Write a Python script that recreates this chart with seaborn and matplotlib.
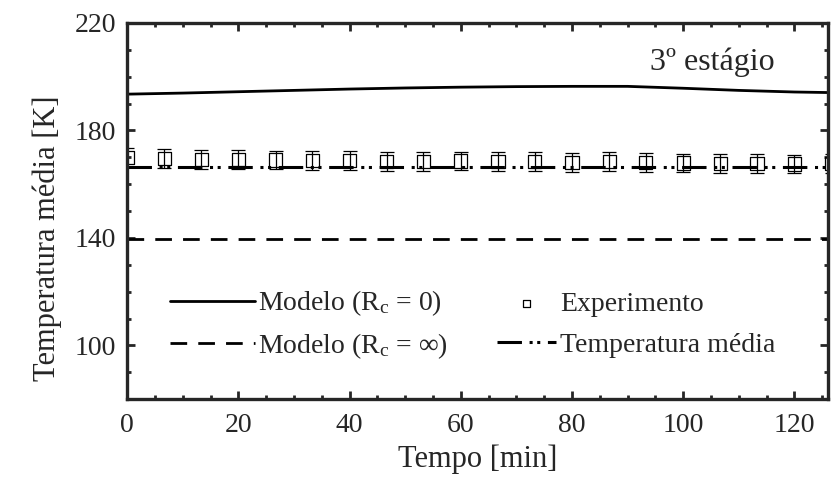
import numpy as np
import pandas as pd
import matplotlib
matplotlib.use("Agg")
import matplotlib.pyplot as plt
from matplotlib.ticker import MultipleLocator
import seaborn as sns

# ---- data ----
t_model = [0, 10, 20, 30, 40, 50, 60, 70, 80, 90, 100, 110, 120, 126]
T_model_rc0 = [193.5, 193.9, 194.4, 194.9, 195.4, 195.8, 196.1, 196.3, 196.4, 196.4, 195.7, 194.9, 194.3, 194.1]
T_model_rcinf = [139.5, 139.5, 139.5, 139.5, 139.5, 139.5, 139.5, 139.5, 139.5, 139.5, 139.5, 139.5, 139.5, 139.5]
T_media = [166.5, 166.5, 166.5, 166.5, 166.5, 166.5, 166.5, 166.5, 166.5, 166.5, 166.5, 166.5, 166.5, 166.5]

t_exp = [0, 6.7, 13.3, 20, 26.7, 33.3, 40, 46.7, 53.3, 60, 66.7, 73.3, 80, 86.7, 93.3, 100, 106.7, 113.3, 120, 126.7]
T_exp = [170.0, 169.6, 169.2, 169.3, 169.0, 168.9, 168.9, 168.5, 168.4, 168.6, 168.3, 168.4, 168.2, 168.3, 168.1, 167.9, 167.7, 167.8, 167.5, 167.6]
T_exp_err = [3.5] * 20

x_ticks = [0, 20, 40, 60, 80, 100, 120]
y_ticks = [100, 140, 180, 220]

sns.set_style("ticks")
plt.rcParams["font.family"] = ["Liberation Serif", "DejaVu Serif"]
plt.rcParams["mathtext.fontset"] = "custom"
plt.rcParams["mathtext.rm"] = "Liberation Serif"
plt.rcParams["mathtext.it"] = "Liberation Serif:italic"

fig = plt.figure(figsize=(8.31, 4.78), dpi=100)
ax = fig.add_axes([0.153, 0.165, 0.843, 0.787])

df = pd.DataFrame({"t": t_model, "rc0": T_model_rc0, "rcinf": T_model_rcinf, "media": T_media})
sns.lineplot(data=df, x="t", y="rc0", ax=ax, color="black", lw=2.0,
             label="Modelo (R$_{\\rm c}$ = 0)")
sns.lineplot(data=df, x="t", y="rcinf", ax=ax, color="black", lw=2.0,
             label="Modelo (R$_{\\rm c}$ = ∞)")
ax.lines[-1].set_dashes((6, 4))
sns.lineplot(data=df, x="t", y="media", ax=ax, color="black", lw=2.2,
             label="Temperatura média")
ax.lines[-1].set_dashes((8, 2.5, 1, 1.5, 1, 2.5))

ax.errorbar(t_exp, T_exp, yerr=T_exp_err, fmt="none", ecolor="black",
            elinewidth=0.9, capsize=5, capthick=0.9)
sns.scatterplot(x=t_exp, y=T_exp, ax=ax, marker="s", s=90, facecolor="none",
                edgecolor="black", linewidth=0.9, label="Experimento")

ax.set_xlim(0, 126)
ax.set_ylim(80, 220)
ax.set_xticks(x_ticks)
ax.set_yticks(y_ticks)
ax.xaxis.set_minor_locator(MultipleLocator(5))
ax.yaxis.set_minor_locator(MultipleLocator(10))
ax.tick_params(which="both", direction="in", top=True, right=True,
               width=2, labelsize=20)
ax.tick_params(axis="x", pad=10)
ax.tick_params(axis="y", pad=8)
ax.tick_params(which="major", length=6)
ax.tick_params(which="minor", length=3)
for s in ax.spines.values():
    s.set_linewidth(2.4)

ax.set_xlabel("Tempo [min]", fontsize=22)
ax.xaxis.label.set_verticalalignment("bottom")
ax.xaxis.set_label_coords(0.5, -0.2)
ax.set_ylabel("Temperatura média [K]", fontsize=22)
ax.yaxis.set_label_coords(-0.093, 0.428)

ax.text(0.836, 0.896, "3º estágio", transform=ax.transAxes, fontsize=23,
        ha="center", va="center")

h, l = ax.get_legend_handles_labels()
leg1 = ax.legend([h[0], h[1]], [l[0], l[1]], loc="center left",
                 bbox_to_anchor=(0.0614, 0.198), frameon=False,
                 fontsize=20, handlelength=3.05, handletextpad=0.1,
                 labelspacing=0.45, borderaxespad=0, borderpad=0)
ax.add_artist(leg1)
leg2 = ax.legend([h[3], h[2]], [l[3], l[2]], loc="center left",
                 bbox_to_anchor=(0.5286, 0.198), frameon=False,
                 fontsize=20, handlelength=2.1, handletextpad=0.15,
                 labelspacing=0.55, borderaxespad=0, borderpad=0)
for lh in leg2.legend_handles:
    if hasattr(lh, "set_sizes"):
        lh.set_sizes([25])

fig.savefig("out.png", dpi=100)
